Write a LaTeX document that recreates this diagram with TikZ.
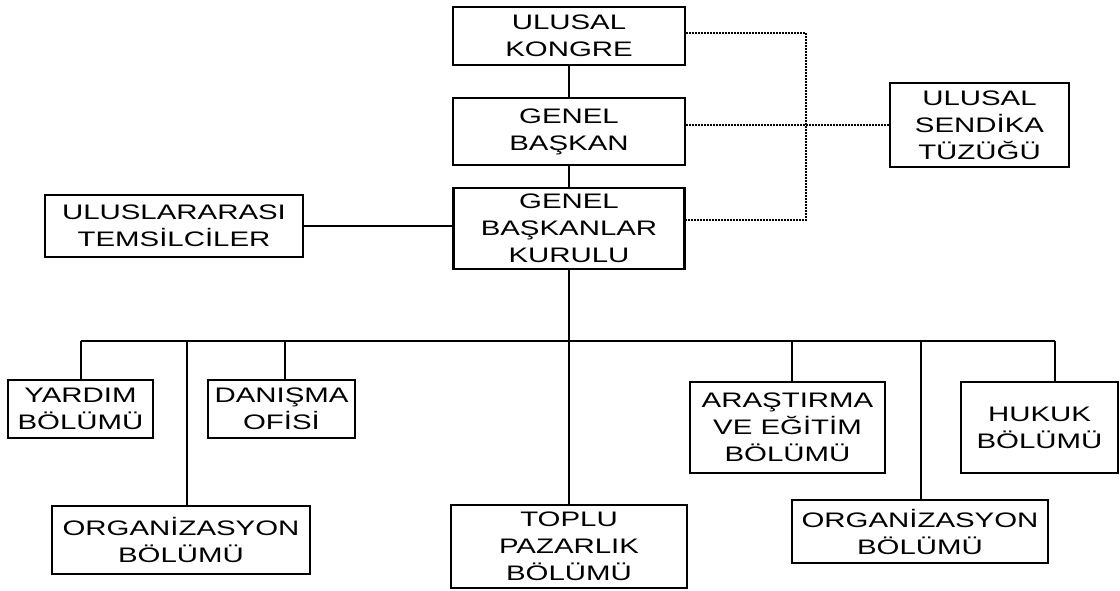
\documentclass[tikz,border=0pt]{standalone}
\usepackage{fontspec}
\setmainfont{Liberation Sans}[FakeStretch=1.4]
\tikzset{
  box/.style={draw, line width=2.5pt, align=center, inner sep=0pt, fill=white,
    font=\fontsize{21}{27}\selectfont},
  conn/.style={line width=2pt},
  dotconn/.style={line width=2.4pt, dash pattern=on 1.5pt off 1.5pt}
}
\begin{document}
\begin{tikzpicture}[x=1pt,y=-1pt]
\useasboundingbox (0,0) rectangle (1120,590);
% top column
\node[box, minimum width=232pt, minimum height=58pt] (kongre) at (569,36) {ULUSAL\\KONGRE};
\node[box, minimum width=232pt, minimum height=67pt] (baskan) at (569,131.5) {GENEL\\BAŞKAN};
\node[box, minimum width=231pt, minimum height=81pt] (kurul) at (569,228.5) {GENEL\\BAŞKANLAR\\KURULU};
\node[box, minimum width=179pt, minimum height=84pt] (tuzuk) at (979.5,125) {ULUSAL\\SENDİKA\\TÜZÜĞÜ};
\node[box, minimum width=258pt, minimum height=62pt] (uluslar) at (174,226) {ULUSLARARASI\\TEMSİLCİLER};
% departments
\node[box, minimum width=145pt, minimum height=58pt] (yardim) at (80.5,409) {YARDIM\\BÖLÜMÜ};
\node[box, minimum width=147pt, minimum height=58pt] (danisma) at (281.5,409) {DANIŞMA\\OFİSİ};
\node[box, minimum width=258pt, minimum height=68pt] (org1) at (181,540) {ORGANİZASYON\\BÖLÜMÜ};
\node[box, minimum width=236pt, minimum height=83pt] (toplu) at (569,546.5) {TOPLU\\PAZARLIK\\BÖLÜMÜ};
\node[box, minimum width=195pt, minimum height=91pt] (arastirma) at (787.5,427.5) {ARAŞTIRMA\\VE EĞİTİM\\BÖLÜMÜ};
\node[box, minimum width=256pt, minimum height=63pt] (org2) at (920,531.5) {ORGANİZASYON\\BÖLÜMÜ};
\node[box, minimum width=157pt, minimum height=91pt] (hukuk) at (1039.5,427.5) {HUKUK\\BÖLÜMÜ};
% coordinates
\coordinate (busL) at (80.5,341);
\coordinate (busR) at (1055,341);
\coordinate (d1) at (187,341);
\coordinate (d2) at (285,341);
\coordinate (d3) at (792,341);
\coordinate (d4) at (921,341);
\coordinate (dvTop) at (806,33);
\coordinate (dvBot) at (806,220);
% solid connectors
\draw[conn] (kongre) -- (baskan);
\draw[conn] (baskan) -- (kurul);
\draw[conn] (kurul) -- (toplu);
\draw[conn] (uluslar.east) -- (uluslar.east -| kurul.west);
\draw[conn] (busL) -- (busR);
\draw[conn] (busL) -- (yardim.north);
\draw[conn] (d1) -- (d1 |- org1.north);
\draw[conn] (d2) -- (d2 |- danisma.north);
\draw[conn] (d3) -- (d3 |- arastirma.north);
\draw[conn] (d4) -- (d4 |- org2.north);
\draw[conn] (busR) -- (busR |- hukuk.north);
% dotted connectors
\draw[dotconn] (kongre.east |- dvTop) -- (dvTop) -- (dvBot) -- (kurul.east |- dvBot);
\draw[dotconn] (baskan.east |- tuzuk.west) -- (tuzuk.west);
\end{tikzpicture}
\end{document}
